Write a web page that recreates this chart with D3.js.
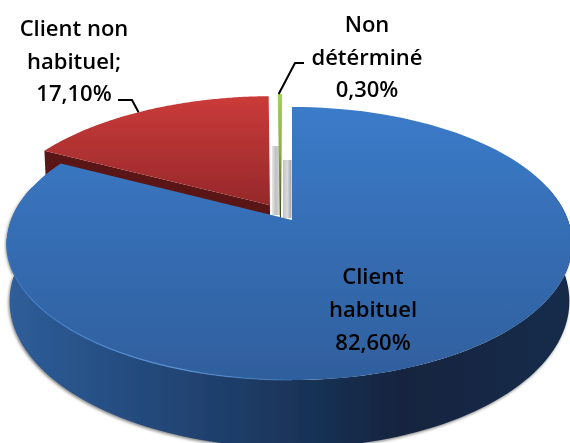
<!DOCTYPE html>
<html><head><meta charset="utf-8">
<script src="https://cdnjs.cloudflare.com/ajax/libs/d3/7.8.5/d3.min.js"></script>
<style>html,body{margin:0;padding:0;background:#fff;overflow:hidden}svg{display:block}
text{font-family:"Open Sans","Noto Sans",sans-serif;font-size:22px;fill:#000;text-anchor:middle;font-weight:600}</style>
</head><body><svg id="c" width="570" height="443"></svg>
<script>
const categories = ["Client habituel", "Client non habituel", "Non détérminé"];
const values = [82.6, 17.1, 0.3];
const labels = [["Client","habituel","82,60%"],["Client non","habituel;","17,10%"],["Non","détérminé","0,30%"]];

const W = 570, H = 443;
const apex = {x: 292, y: 220}, rxLeft = 281, rxRight = 276, ry = 132.5, persp = 0.172, depth = 56;
const offsets = [{u:0,v:0},{u:-0.08,v:0.114},{u:-0.042,v:0.137}];
const svg = d3.select("#c");
const defs = svg.append("defs");

function project(a, r, off, z){
  const u = r*Math.sin(a)+off.u, v = r*Math.cos(a)+off.v, w = 1+persp*v, s = 1-0.01*z;
  return [apex.x + (u<0?rxLeft:rxRight)*u/w*s, apex.y + (-ry*v + depth*z)/w];
}
function grad(id, x1,y1,x2,y2, stops){
  const g = defs.append("linearGradient").attr("id",id).attr("gradientUnits","userSpaceOnUse")
    .attr("x1",x1).attr("y1",y1).attr("x2",x2).attr("y2",y2);
  stops.forEach(s=>g.append("stop").attr("offset",s[0]).attr("stop-color",s[1]).attr("stop-opacity",s[2]===undefined?1:s[2]));
}
grad("gBlue",0,107,0,380,[[0,"#3b7bc9"],[1,"#2f5f9d"]]);
grad("gRed",0,96,0,210,[[0,"#cb3b39"],[1,"#93272a"]]);
grad("gGreen",0,94,0,217,[[0,"#a6d15c"],[.45,"#8aae4a"],[1,"#33481a"]]);
grad("gWall",0,0,W,0,[[0,"#2f5f9b"],[.2,"#264e82"],[.45,"#1c3a63"],[.7,"#13243f"],[1,"#162c4a"]]);
grad("gRim",0,0,360,0,[[0,"#3a72b6"],[.2,"#4680c6"],[.5,"#5c92d6"],[.85,"#3a6fb3",.5],[1,"#2f5f9d",0]]);
grad("gStrip",272,0,291,0,[[0,"#e6e6e6"],[.2,"#c0c0c0"],[.4,"#d6d6d6"],[.6,"#c4c4c4"],[.8,"#dcdcdc"],[1,"#a9a9a9"]]);
const blur = defs.append("filter").attr("id","soft").attr("x","-5%").attr("y","-5%").attr("width","110%").attr("height","110%");
blur.append("feGaussianBlur").attr("stdDeviation",0.55);
const textBlur = defs.append("filter").attr("id","softText").attr("x","-5%").attr("y","-5%").attr("width","110%").attr("height","110%");
textBlur.append("feGaussianBlur").attr("stdDeviation",0.3);
const shadow = defs.append("filter").attr("id","shade").attr("x","-5%").attr("y","-5%").attr("width","110%").attr("height","110%");
shadow.append("feGaussianBlur").attr("stdDeviation",1.8);

const arcs = d3.pie().sort(null).startAngle(0).endAngle(2*Math.PI)(values);
const line = d3.line();
function arcPts(d, off, z, reverse){
  const n = 120, t = d3.range(n+1).map(i=>d.startAngle+(d.endAngle-d.startAngle)*i/n);
  const pts = t.map(a=>project(a,1,off,z));
  return reverse?pts.reverse():pts;
}
function sector(d, off, z){ return line([project(0,0,off,z),...arcPts(d,off,z)])+"Z"; }
function wall(start,end,off){
  const d={startAngle:start,endAngle:end};
  return line([...arcPts(d,off,0),...arcPts(d,off,1,true)])+"Z";
}
const rad = Math.PI/180;

svg.append("rect").attr("width",W).attr("height",H).attr("fill","#fff");
// soft edge shadow
svg.append("path").attr("d",wall(75*rad,285*rad,offsets[0])).attr("fill","#666").attr("opacity",.8)
  .attr("transform","translate(-1,1.5)").attr("filter","url(#shade)");

const g = svg.append("g").attr("filter","url(#soft)");
const red = arcs[1], green = arcs[2], blue = arcs[0];

// exploded red slice: cut wall under the chord, outer wall, top face
g.append("path").attr("fill","#5a1715").attr("d",line([
  project(red.startAngle,1,offsets[1],0), project(0,0,offsets[1],0),
  project(0,0,offsets[1],1), project(red.startAngle,1,offsets[1],1)])+"Z");
g.append("path").attr("fill","url(#gRed)").attr("d",sector(red,offsets[1],0));

// light cut faces seen through the gap
const strips = [[272,146,8,69],[283,160,8.5,58]];
g.selectAll("rect.strip").data(strips).join("rect").attr("class","strip")
  .attr("x",d=>d[0]).attr("y",d=>d[1]).attr("width",d=>d[2]).attr("height",d=>d[3]).attr("fill","url(#gStrip)");

// exploded green sliver
g.append("path").attr("fill","url(#gGreen)").attr("d",line([
  project(0,0,offsets[2],1), ...arcPts(green,offsets[2],0)])+"Z");

// blue slice
g.append("path").attr("fill","url(#gWall)").attr("d",wall(75*rad,285*rad,offsets[0]));
g.append("path").attr("fill","url(#gBlue)").attr("d",sector(blue,offsets[0],0));
g.append("path").attr("fill","none").attr("stroke","url(#gRim)").attr("stroke-width",1.3)
  .attr("d",line(arcPts({startAngle:180*rad,endAngle:262*rad},offsets[0],0)));

// leader lines
const leader = svg.append("g").attr("fill","none").attr("stroke","#000").attr("stroke-width",2);
const redAnchor = project(red.startAngle+(red.endAngle-red.startAngle)*0.47,1,offsets[1],0);
leader.append("path").attr("d",line([[118,100],[132,100],redAnchor]));
const greenAnchor = project(green.startAngle,1,offsets[2],0);
leader.append("path").attr("d",line([[greenAnchor[0]+1,greenAnchor[1]],[295,63],[304,63]]));

// labels
const labelPos = [{x:373,y:[284,317,350]},{x:74,y:[36,69,101]},{x:367,y:[32,65,97]}];
const tg = svg.append("g").attr("filter","url(#softText)");
labels.forEach((ls,i)=>ls.forEach((t,j)=>{
  tg.append("text").attr("x",labelPos[i].x).attr("y",labelPos[i].y[j]).text(t);
}));
</script></body></html>
